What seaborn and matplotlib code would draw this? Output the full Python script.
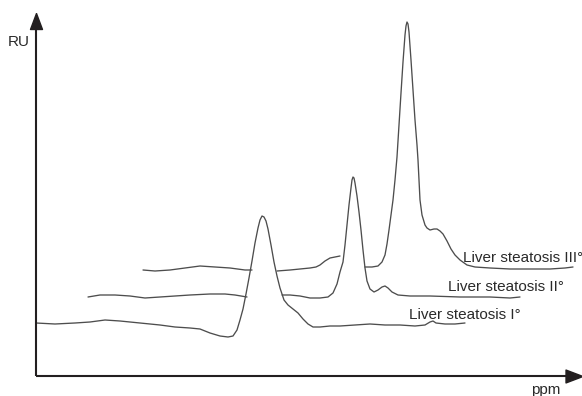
import numpy as np
import pandas as pd
import matplotlib
matplotlib.use("Agg")
import matplotlib.pyplot as plt
import seaborn as sns

sns.set_style("white")
plt.rcParams['font.family'] = ['Liberation Sans', 'DejaVu Sans']

nan = np.nan

# Curve I: Liver steatosis I°
x1 = [0, 19, 39, 54, 69, 84, 104, 124, 139, 154, 164, 174, 184, 192, 197, 201, 204,
      207, 210, 213, 216, 219, 222, 224, 226, 228, 230, 232, 235, 238, 241, 244, 248,
      252, 257, 262, 267, 272, 277, 284, 294, 304, 319, 334, 349, 364, 379, 389, 394,
      397, 400, 409, 419, 429]
y1 = [53, 52, 53, 54, 56, 55, 53, 51, 49, 48, 47, 43, 40, 39, 40, 46, 56,
      67, 82, 98, 115, 133, 148, 156, 160, 159, 155, 147, 131, 114, 100, 88, 76,
      71, 67, 63, 57, 52, 49, 49, 50, 50, 51, 52, 51, 51, 50, 51, 54,
      55, 53, 52, 52, 53]

# Curve II: Liver steatosis II° (gap where curve I's peak passes in front)
x2 = [52, 64, 79, 94, 109, 124, 139, 154, 174, 189, 199, 211, nan,
      246, 254, 264, 274, 284, 292, 297, 301, 304, 307, 309, 311, 313, 315, 316, 317,
      318, 319, 321, 323, 325, 327, 329, 331, 334, 338, 342, 346, 349, 352, 356, 362,
      374, 394, 424, 454, 474, 484]
y2 = [79, 81, 81, 80, 78, 79, 80, 81, 82, 82, 81, 79, nan,
      81, 81, 80, 78, 78, 79, 83, 92, 104, 114, 131, 151, 171, 188, 196, 199,
      198, 193, 180, 164, 146, 126, 108, 95, 87, 84, 86, 89, 90, 88, 84, 81,
      80, 80, 79, 79, 78, 79]

# Curve III: Liver steatosis III° (gaps behind peaks of curves I and II)
x3 = [107, 119, 134, 149, 164, 179, 194, 209, 216, nan,
      241, 254, 264, 274, 280, 284, 289, 294, 299, 304, nan,
      329, 336, 342, 346, 349, 351, 353, 355, 357, 359, 361, 363, 365, 367, 369, 370,
      371, 372, 373, 375, 377, 379, 381, 382, 384, 386, 389, 391, 394, 398, 401, 404,
      407, 411, 415, 419, 424, 431, 439, 454, 474, 494, 514, 529, 537]
y3 = [106, 105, 106, 108, 110, 109, 108, 106, 106, nan,
      105, 106, 107, 108, 109, 111, 115, 118, 119, 120, nan,
      109, 109, 110, 114, 121, 132, 146, 161, 176, 196, 219, 251, 283, 314, 341, 350,
      354, 352, 344, 316, 286, 256, 231, 216, 176, 161, 151, 148, 146, 147, 147, 145,
      142, 135, 127, 121, 116, 111, 109, 108, 107, 107, 107, 108, 109]

labels = ["Liver steatosis I°", "Liver steatosis II°", "Liver steatosis III°"]
label_x = [373, 412, 427]
label_y = [61, 89, 118]

x_label = "ppm"
y_label = "RU"


def segments(x, y, name):
    rows = []
    seg = 0
    for xv, yv in zip(x, y):
        if np.isnan(xv):
            seg += 1
            continue
        rows.append({"x": xv, "y": yv, "unit": f"{name}-{seg}", "curve": name})
    return rows


rows = segments(x1, y1, "I") + segments(x2, y2, "II") + segments(x3, y3, "III")
df = pd.DataFrame(rows)

W, H = 582, 396
fig = plt.figure(figsize=(W / 100, H / 100), dpi=100)
ox, oy = 36, 376
ax = fig.add_axes([ox / W, (H - oy) / H, (W - ox) / W, (oy) / H])
ax.set_xlim(0, W - ox)
ax.set_ylim(0, oy)
ax.axis("off")

line_color = "#4d4d4d"
sns.lineplot(data=df, x="x", y="y", units="unit", estimator=None, sort=False,
             color=line_color, linewidth=0.95, ax=ax, legend=False)

axis_color = "#231f20"
# axes with arrowheads
ax.plot([0, 0], [0, 355], color=axis_color, lw=1.5, solid_capstyle="butt", clip_on=False)
ax.plot([0, 537], [0, 0], color=axis_color, lw=1.5, solid_capstyle="butt", clip_on=False)
up = [(0, 1), (-0.75, -1), (0.75, -1), (0, 1)]
right = [(1, 0), (-1, -0.76), (-1, 0.76), (1, 0)]
ax.plot([0], [355], marker=up, markersize=11.5, color=axis_color, clip_on=False)
ax.plot([537.5], [0], marker=right, markersize=12.2, color=axis_color, clip_on=False)

text_color = "#2a2a2a"
for lab, lx, ly in zip(labels, label_x, label_y):
    ax.text(lx, ly, lab, fontsize=11, color=text_color, ha="left", va="center",
            clip_on=False)

ax.text(-6, 334, y_label, fontsize=11, color=text_color, ha="right", va="center",
        clip_on=False)
ax.text(510, -14, x_label, fontsize=11, color=text_color, ha="center", va="center",
        clip_on=False)

fig.savefig("out.png", dpi=100)
